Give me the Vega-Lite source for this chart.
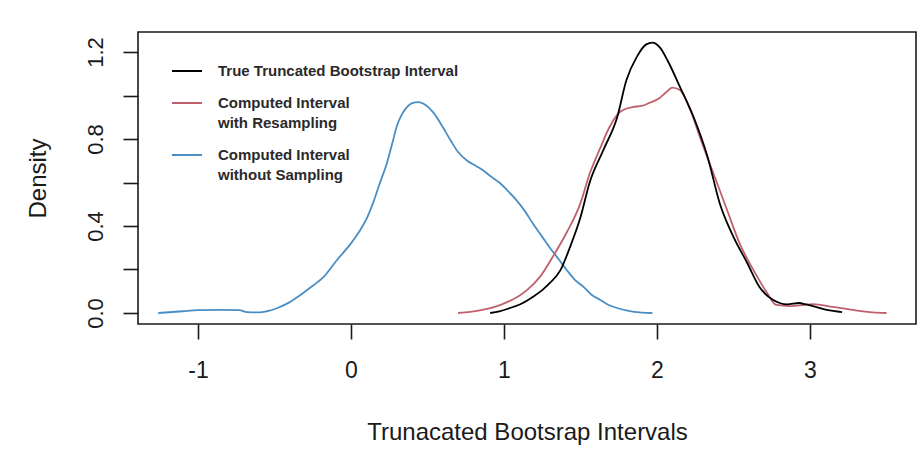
{
  "$schema": "https://vega.github.io/schema/vega-lite/v6.json",
  "autosize": {"type": "none"},
  "width": 778,
  "height": 292,
  "padding": {"left": 138, "top": 32, "right": 4, "bottom": 146},
  "background": "white",
  "config": {
    "view": {"stroke": "#1a1a1a", "strokeWidth": 1.6},
    "font": "Liberation Sans",
    "axis": {"grid": false, "domain": false, "tickColor": "#1a1a1a", "tickWidth": 1.6, "tickSize": 15,
      "labelFont": "Liberation Sans", "labelFontSize": 22, "labelColor": "#1a1a1a",
      "titleFont": "Liberation Sans", "titleFontSize": 24, "titleFontWeight": "normal", "titleColor": "#1a1a1a",
      "labelFlush": false, "labelOverlap": false}
  },
  "datasets": {
    "curves": [
      {"series": "nosamp", "x": -1.26, "y": 0},
      {"series": "nosamp", "x": -1.1, "y": 0.008},
      {"series": "nosamp", "x": -1.0, "y": 0.013},
      {"series": "nosamp", "x": -0.85, "y": 0.014},
      {"series": "nosamp", "x": -0.73, "y": 0.013},
      {"series": "nosamp", "x": -0.68, "y": 0.004},
      {"series": "nosamp", "x": -0.6, "y": 0.003},
      {"series": "nosamp", "x": -0.55, "y": 0.008},
      {"series": "nosamp", "x": -0.48, "y": 0.023},
      {"series": "nosamp", "x": -0.4, "y": 0.05},
      {"series": "nosamp", "x": -0.33, "y": 0.083},
      {"series": "nosamp", "x": -0.25, "y": 0.125},
      {"series": "nosamp", "x": -0.18, "y": 0.165},
      {"series": "nosamp", "x": -0.09, "y": 0.245},
      {"series": "nosamp", "x": 0.0, "y": 0.32},
      {"series": "nosamp", "x": 0.05, "y": 0.37},
      {"series": "nosamp", "x": 0.1, "y": 0.43},
      {"series": "nosamp", "x": 0.144, "y": 0.505},
      {"series": "nosamp", "x": 0.19, "y": 0.6},
      {"series": "nosamp", "x": 0.235, "y": 0.69},
      {"series": "nosamp", "x": 0.27, "y": 0.78},
      {"series": "nosamp", "x": 0.30, "y": 0.86},
      {"series": "nosamp", "x": 0.33, "y": 0.91},
      {"series": "nosamp", "x": 0.366, "y": 0.947},
      {"series": "nosamp", "x": 0.40, "y": 0.965},
      {"series": "nosamp", "x": 0.44, "y": 0.97},
      {"series": "nosamp", "x": 0.48, "y": 0.96},
      {"series": "nosamp", "x": 0.54, "y": 0.92},
      {"series": "nosamp", "x": 0.60, "y": 0.855},
      {"series": "nosamp", "x": 0.65, "y": 0.795},
      {"series": "nosamp", "x": 0.70, "y": 0.74},
      {"series": "nosamp", "x": 0.76, "y": 0.70},
      {"series": "nosamp", "x": 0.82, "y": 0.675},
      {"series": "nosamp", "x": 0.865, "y": 0.655},
      {"series": "nosamp", "x": 0.92, "y": 0.625},
      {"series": "nosamp", "x": 0.97, "y": 0.60},
      {"series": "nosamp", "x": 1.02, "y": 0.565},
      {"series": "nosamp", "x": 1.08, "y": 0.52},
      {"series": "nosamp", "x": 1.14, "y": 0.465},
      {"series": "nosamp", "x": 1.19, "y": 0.41},
      {"series": "nosamp", "x": 1.25, "y": 0.35},
      {"series": "nosamp", "x": 1.30, "y": 0.30},
      {"series": "nosamp", "x": 1.36, "y": 0.245},
      {"series": "nosamp", "x": 1.41, "y": 0.198},
      {"series": "nosamp", "x": 1.46, "y": 0.155},
      {"series": "nosamp", "x": 1.52, "y": 0.12},
      {"series": "nosamp", "x": 1.57, "y": 0.085},
      {"series": "nosamp", "x": 1.63, "y": 0.06},
      {"series": "nosamp", "x": 1.68, "y": 0.038},
      {"series": "nosamp", "x": 1.74, "y": 0.023},
      {"series": "nosamp", "x": 1.80, "y": 0.012},
      {"series": "nosamp", "x": 1.85, "y": 0.005},
      {"series": "nosamp", "x": 1.97, "y": 0.0},

      {"series": "resamp", "x": 0.70, "y": 0},
      {"series": "resamp", "x": 0.78, "y": 0.005},
      {"series": "resamp", "x": 0.86, "y": 0.014},
      {"series": "resamp", "x": 0.95, "y": 0.03},
      {"series": "resamp", "x": 1.02, "y": 0.05},
      {"series": "resamp", "x": 1.09, "y": 0.075},
      {"series": "resamp", "x": 1.15, "y": 0.105},
      {"series": "resamp", "x": 1.235, "y": 0.166},
      {"series": "resamp", "x": 1.32, "y": 0.26},
      {"series": "resamp", "x": 1.41, "y": 0.37},
      {"series": "resamp", "x": 1.50, "y": 0.505},
      {"series": "resamp", "x": 1.56, "y": 0.64},
      {"series": "resamp", "x": 1.63, "y": 0.76},
      {"series": "resamp", "x": 1.69, "y": 0.855},
      {"series": "resamp", "x": 1.76, "y": 0.925},
      {"series": "resamp", "x": 1.84, "y": 0.947},
      {"series": "resamp", "x": 1.90, "y": 0.952},
      {"series": "resamp", "x": 1.95, "y": 0.966},
      {"series": "resamp", "x": 2.02, "y": 0.99},
      {"series": "resamp", "x": 2.06, "y": 1.015},
      {"series": "resamp", "x": 2.10, "y": 1.036},
      {"series": "resamp", "x": 2.15, "y": 1.025},
      {"series": "resamp", "x": 2.22, "y": 0.93},
      {"series": "resamp", "x": 2.28, "y": 0.81},
      {"series": "resamp", "x": 2.37, "y": 0.64},
      {"series": "resamp", "x": 2.46, "y": 0.47},
      {"series": "resamp", "x": 2.54, "y": 0.32},
      {"series": "resamp", "x": 2.63, "y": 0.198},
      {"series": "resamp", "x": 2.72, "y": 0.092},
      {"series": "resamp", "x": 2.78, "y": 0.037},
      {"series": "resamp", "x": 2.87, "y": 0.032},
      {"series": "resamp", "x": 2.95, "y": 0.036},
      {"series": "resamp", "x": 3.02, "y": 0.041},
      {"series": "resamp", "x": 3.15, "y": 0.028},
      {"series": "resamp", "x": 3.28, "y": 0.014},
      {"series": "resamp", "x": 3.41, "y": 0.003},
      {"series": "resamp", "x": 3.50, "y": 0},

      {"series": "true", "x": 0.91, "y": 0},
      {"series": "true", "x": 0.97, "y": 0.008},
      {"series": "true", "x": 1.04, "y": 0.023},
      {"series": "true", "x": 1.12, "y": 0.045},
      {"series": "true", "x": 1.19, "y": 0.075},
      {"series": "true", "x": 1.25, "y": 0.105},
      {"series": "true", "x": 1.30, "y": 0.138},
      {"series": "true", "x": 1.37, "y": 0.198},
      {"series": "true", "x": 1.43, "y": 0.30},
      {"series": "true", "x": 1.50, "y": 0.44},
      {"series": "true", "x": 1.56, "y": 0.60},
      {"series": "true", "x": 1.65, "y": 0.75},
      {"series": "true", "x": 1.74, "y": 0.90},
      {"series": "true", "x": 1.80, "y": 1.07},
      {"series": "true", "x": 1.87, "y": 1.18},
      {"series": "true", "x": 1.93, "y": 1.235},
      {"series": "true", "x": 1.97, "y": 1.243},
      {"series": "true", "x": 2.02, "y": 1.22},
      {"series": "true", "x": 2.07, "y": 1.16},
      {"series": "true", "x": 2.15, "y": 1.04},
      {"series": "true", "x": 2.24, "y": 0.90},
      {"series": "true", "x": 2.33, "y": 0.72},
      {"series": "true", "x": 2.41, "y": 0.505},
      {"series": "true", "x": 2.50, "y": 0.35},
      {"series": "true", "x": 2.59, "y": 0.23},
      {"series": "true", "x": 2.67, "y": 0.12},
      {"series": "true", "x": 2.72, "y": 0.08},
      {"series": "true", "x": 2.76, "y": 0.06},
      {"series": "true", "x": 2.85, "y": 0.04},
      {"series": "true", "x": 2.93, "y": 0.046},
      {"series": "true", "x": 2.97, "y": 0.04},
      {"series": "true", "x": 3.02, "y": 0.032},
      {"series": "true", "x": 3.11, "y": 0.014},
      {"series": "true", "x": 3.21, "y": 0.004}
    ]
  },
  "layer": [
    {
      "mark": {"type": "rule", "color": "#c8c8c8", "strokeWidth": 1.5},
      "encoding": {"y": {"datum": 0, "type": "quantitative", "scale": {"domain": [-0.0506, 1.292], "nice": false, "zero": false}}}
    },
    {
      "data": {"name": "curves"},
      "mark": {"type": "line", "strokeWidth": 1.8, "interpolate": "monotone"},
      "encoding": {
        "x": {"field": "x", "type": "quantitative", "title": "Trunacated Bootsrap Intervals",
          "scale": {"domain": [-1.392, 3.693], "nice": false, "zero": false},
          "axis": {"values": [-1, 0, 1, 2, 3], "labelExpr": "'' + datum.value", "labelFontSize": 23, "labelPadding": 20, "labelBaseline": "top", "titlePadding": 38}},
        "y": {"field": "y", "type": "quantitative", "title": "Density",
          "scale": {"domain": [-0.0506, 1.292], "nice": false, "zero": false},
          "axis": {"values": [0, 0.2, 0.4, 0.6, 0.8, 1.0, 1.2],
            "labelExpr": "(round(datum.value*10) % 4 == 0) ? format(datum.value, '.1f') : ''",
            "labelAngle": 270, "labelAlign": "center", "labelBaseline": "alphabetic", "labelPadding": 21, "titlePadding": 34}},
        "color": {"field": "series", "type": "nominal",
          "scale": {"domain": ["true", "resamp", "nosamp"], "range": ["#000000", "#c0606e", "#4a8ec4"]},
          "legend": {"orient": "none", "legendX": 33, "legendY": 23, "title": null, "padding": 0,
            "symbolType": "stroke", "symbolSize": 900, "symbolStrokeWidth": 2, "labelOffset": 15,
            "labelFont": "Liberation Sans", "labelFontSize": 15, "labelFontWeight": "bold", "labelColor": "#2a2a2a",
            "rowPadding": 8, "labelLimit": 400,
            "encode": {"labels": {"update": {"lineHeight": {"value": 20}}}},
            "labelExpr": "datum.value == 'true' ? 'True Truncated Bootstrap Interval' : datum.value == 'resamp' ? ['Computed Interval', ' with Resampling'] : ['Computed Interval', 'without Sampling']"}}
      }
    }
  ]
}
